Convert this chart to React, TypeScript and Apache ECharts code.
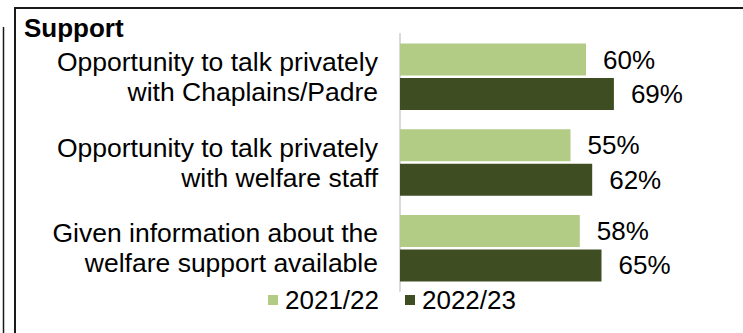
import React, { useEffect, useRef } from "react";
import * as echarts from "echarts";

const categories = [
  "Opportunity to talk privately\nwith Chaplains/Padre",
  "Opportunity to talk privately\nwith welfare staff",
  "Given information about the\nwelfare support available",
];
const seriesNames = ["2021/22", "2022/23"];
const values2122 = [60, 55, 58];
const values2223 = [69, 62, 65];
const colors = ["#b2cc86", "#3f4e22"];
const titleText = "Support";

const FONT = "'Liberation Sans', Arial, sans-serif";

export default function App() {
  const ref = useRef<HTMLDivElement>(null);
  useEffect(() => {
    document.body.style.margin = "0";
    const chart = echarts.init(ref.current!, null, { renderer: "svg" });
    const label = {
      show: true,
      position: "right",
      distance: 17,
      formatter: "{c}%",
      fontSize: 26,
      fontFamily: FONT,
      color: "#000",
    };
    chart.setOption({
      animation: false,
      textStyle: { fontFamily: FONT },
      title: {
        text: titleText,
        left: 24,
        top: 15,
        padding: 0,
        textStyle: { fontSize: 26, fontWeight: "bold", color: "#000", fontFamily: FONT },
      },
      grid: { left: 400, right: 33, top: 34, bottom: 42, containLabel: false },
      xAxis: {
        type: "value",
        min: 0,
        max: 100,
        show: false,
      },
      yAxis: {
        type: "category",
        data: categories,
        inverse: true,
        axisLine: { show: true, lineStyle: { color: "#d9d9d9", width: 2 } },
        axisTick: { show: false },
        axisLabel: {
          fontSize: 26.5,
          lineHeight: 30,
          color: "#000",
          fontFamily: FONT,
          margin: 22,
        },
      },
      legend: {
        data: seriesNames,
        left: 268,
        top: 287,
        itemWidth: 10,
        itemHeight: 10,
        itemGap: 26,
        icon: "rect",
        padding: 0,
        textStyle: { fontSize: 26, color: "#000", fontFamily: FONT, padding: [0, 0, 0, 2] },
      },
      graphic: [
        {
          type: "polyline",
          shape: { points: [[15, 333], [15, 8], [743, 8]] },
          style: { stroke: "#1a1a1a", lineWidth: 2, fill: null },
        },
        {
          type: "line",
          shape: { x1: 3.5, y1: 27, x2: 3.5, y2: 333 },
          style: { stroke: "#1a1a1a", lineWidth: 1.5 },
        },
      ],
      series: [
        {
          name: seriesNames[0],
          type: "bar",
          data: values2122,
          barWidth: 32,
          barGap: "8%",
          itemStyle: { color: colors[0] },
          label,
        },
        {
          name: seriesNames[1],
          type: "bar",
          data: values2223,
          barWidth: 32,
          barGap: "8%",
          itemStyle: { color: colors[1] },
          label,
        },
      ],
    });
    return () => chart.dispose();
  }, []);
  return <div ref={ref} style={{ width: 743, height: 333 }} />;
}
